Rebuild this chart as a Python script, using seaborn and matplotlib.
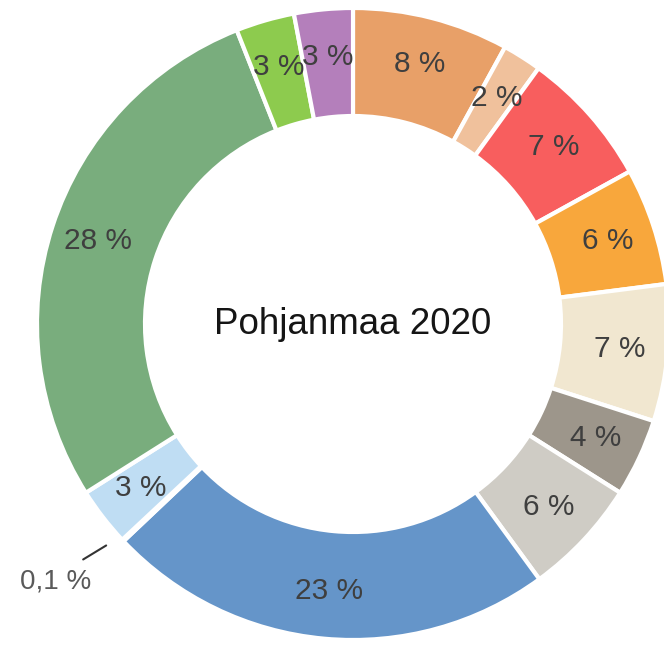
import numpy as np
import matplotlib.pyplot as plt
import seaborn as sns

# slice values clockwise from 12 o'clock
values = [8, 2, 7, 6, 7, 4, 6, 23, 0.1, 3, 28, 3, 3]
labels = ['8 %', '2 %', '7 %', '6 %', '7 %', '4 %', '6 %', '23 %', '0,1 %', '3 %', '28 %', '3 %', '3 %']
colors = ['#E8A068', '#F0C19C', '#F85E5E', '#F8A73C', '#F1E7D0', '#9D968B',
          '#CFCCC5', '#6595C9', '#D9D9D9', '#BFDDF3', '#79AD7D', '#8DCB4E', '#B47FBB']
title = 'Pohjanmaa 2020'

sns.set_theme(style='white')
plt.rcParams['font.family'] = ['Liberation Sans', 'DejaVu Sans']

fig = plt.figure(figsize=(6.64, 6.46), dpi=100)
ax = fig.add_axes([0, 0, 1, 1])

cx, cy = 353, 322
R = 316
width = 108

wedges, _ = ax.pie(values, colors=colors, startangle=90, counterclock=False,
                   radius=R, center=(cx, cy), frame=True,
                   wedgeprops=dict(width=width, edgecolor='white', linewidth=3))
ax.set_xlim(0, 664)
ax.set_ylim(0, 646)
ax.axis('off')

# labels at mid-ring, tiny slice gets a leader line
total = sum(values)
cum = np.cumsum([0] + values[:-1])
label_r = R - width / 2 + 6
for v, c, lab in zip(values, cum, labels):
    ang = np.deg2rad(90 - 360 * (c + v / 2) / total)
    if v < 1:
        x0 = cx + (R + 16) * np.cos(ang) - 5
        y0 = cy + (R + 16) * np.sin(ang) + 6
        x1, y1 = x0 - 23, y0 - 14
        ax.plot([x0, x1], [y0, y1], color='#333333', lw=1.5)
        ax.text(x1 - 28, y1 - 22, lab, ha='center', va='center',
                fontsize=20, color='#5A5A5A')
    else:
        x, y = cx + label_r * np.cos(ang), cy + label_r * np.sin(ang)
        ax.text(x, y, lab, ha='center', va='center', fontsize=21.5, color='#3F3F3F')

ax.text(cx, cy, title, ha='center', va='center', fontsize=26.5, color='#151515')

fig.savefig('out.png', dpi=100, facecolor='white')
